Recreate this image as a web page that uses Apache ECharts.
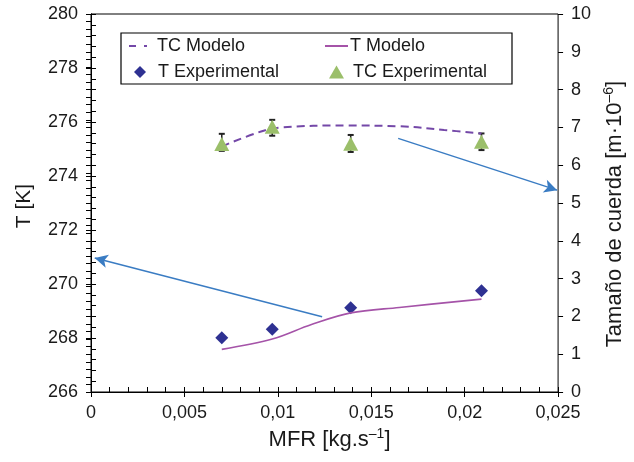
<!DOCTYPE html>
<html><head><meta charset="utf-8">
<script src="https://cdn.jsdelivr.net/npm/echarts@6/dist/echarts.min.js"></script>
<style>html,body{margin:0;padding:0;background:#fff}#c{width:634px;height:462px}</style>
</head><body><div id="c"></div>
<script>
// ---- data ----
const xTickLabels = ['0', '0,005', '0,01', '0,015', '0,02', '0,025'];
const leftTickLabels = ['266', '268', '270', '272', '274', '276', '278', '280'];
const rightTickLabels = ['0', '1', '2', '3', '4', '5', '6', '7', '8', '9', '10'];

// TC Modelo (right axis, m·10^-6)
const tcModelo = [[0.007, 6.50], [0.0091, 6.89], [0.0102, 7.00], [0.0136, 7.05], [0.0165, 7.03], [0.0189, 6.93], [0.0209, 6.84]];
// T Modelo (left axis, K)
const tModelo = [[0.007, 267.58], [0.0097, 267.96], [0.0118, 268.50], [0.0139, 268.93], [0.0165, 269.13], [0.0209, 269.44]];
// T Experimental (left axis)
const tExp = [[0.007, 268.01], [0.0097, 268.32], [0.0139, 269.12], [0.0209, 269.75]];
// TC Experimental (right axis)
const tcExp = [[0.007, 6.56], [0.0097, 7.02], [0.0139, 6.57], [0.0209, 6.62]];
// TC error bars [x, low, high]
const tcErr = [[0.007, 6.38, 6.83], [0.0097, 6.78, 7.20], [0.0139, 6.35, 6.80], [0.0209, 6.40, 6.84]];
// annotation arrows [start, end]
const arrowT = [[0.01237, 268.79], [0.0002, 270.96]];
const arrowTC = [[0.01644, 6.71], [0.02495, 5.34]];

const FONT = "'Liberation Sans', Arial, Helvetica, sans-serif";
const TXT = '#1a1a1a';

const chart = echarts.init(document.getElementById('c'), null, {renderer: 'canvas'});

const baseTick = {lineStyle: {color: '#000', width: 1}};
function xAx(extra) {
  return Object.assign({type: 'value', min: 0, max: 0.025, interval: 0.005, position: 'bottom',
    splitLine: {show: false}, minorSplitLine: {show: false}}, extra);
}
function yAx(min, max, interval, position, extra) {
  return Object.assign({type: 'value', min: min, max: max, interval: interval, position: position,
    splitLine: {show: false}, minorSplitLine: {show: false}}, extra);
}

const option = {
  animation: false,
  textStyle: {fontFamily: FONT},
  grid: {left: 91, right: 72, top: 14, bottom: 70, show: true, borderColor: '#000', borderWidth: 1, backgroundColor: 'transparent'},
  xAxis: [
    xAx({
      axisLine: {show: true, lineStyle: {color: '#000', width: 1}},
      axisTick: Object.assign({show: true, inside: true, length: 5}, baseTick),
      minorTick: {show: true, splitNumber: 5, length: 5, lineStyle: {color: '#000', width: 1}},
      axisLabel: {margin: 12, fontSize: 18, color: TXT, fontFamily: FONT,
        formatter: v => xTickLabels[Math.round(v / 0.005)]},
      name: 'MFR [kg.s{sup|–1}]', nameLocation: 'middle', nameGap: 33,
      nameTextStyle: {fontSize: 22, color: TXT, fontFamily: FONT, padding: [0, 0, 0, 10],
        rich: {sup: {fontSize: 14, color: TXT, fontFamily: FONT, padding: [0, 0, 12, 0]}}}
    }),
    xAx({
      axisLine: {show: false},
      axisTick: Object.assign({show: true, inside: false, length: 5}, baseTick),
      axisLabel: {show: false}
    })
  ],
  yAxis: [
    yAx(266, 280, 2, 'left', {
      axisLine: {show: true, lineStyle: {color: '#000', width: 1}},
      axisTick: Object.assign({show: true, inside: true, length: 5}, baseTick),
      minorTick: {show: true, splitNumber: 5, length: 5, lineStyle: {color: '#000', width: 1}},
      axisLabel: {margin: 13, fontSize: 18, color: TXT, fontFamily: FONT,
        formatter: v => leftTickLabels[Math.round((v - 266) / 2)]},
      name: 'T [K]', nameLocation: 'middle', nameGap: 56, nameRotate: 90,
      nameTextStyle: {fontSize: 21, color: TXT, fontFamily: FONT, padding: [0, 6, 0, 0]}
    }),
    yAx(0, 10, 1, 'right', {
      axisLine: {show: true, lineStyle: {color: '#000', width: 1}},
      axisTick: Object.assign({show: true, inside: true, length: 5}, baseTick),
      minorTick: {show: true, splitNumber: 5, length: 5, lineStyle: {color: '#000', width: 1}},
      axisLabel: {margin: 13, fontSize: 18, color: TXT, fontFamily: FONT,
        formatter: v => rightTickLabels[Math.round(v)]},
      name: 'Tamaño de cuerda [m·10{sup|–6}]', nameLocation: 'middle', nameGap: 27, nameRotate: 90,
      nameTextStyle: {fontSize: 22, color: TXT, fontFamily: FONT, padding: [0, 22, 0, 0],
        rich: {sup: {fontSize: 14, color: TXT, fontFamily: FONT, padding: [0, 0, 12, 0]}}}
    }),
    yAx(266, 280, 2, 'left', {
      axisLine: {show: false},
      axisTick: Object.assign({show: true, inside: false, length: 5}, baseTick),
      axisLabel: {show: false}
    }),
    yAx(0, 10, 1, 'right', {
      axisLine: {show: false},
      axisTick: Object.assign({show: true, inside: false, length: 5}, baseTick),
      axisLabel: {show: false}
    })
  ],
  legend: [
    {data: ['TC Modelo'], left: 129, top: 36, padding: 0, icon: 'path://M0,0h7v2h-7zM15,0h3v2h-3z', itemWidth: 18, itemHeight: 3,
      textStyle: {fontSize: 18, color: TXT, fontFamily: FONT, lineHeight: 20, padding: [0, 0, 0, 5]}},
    {data: ['T Modelo'], left: 325, top: 36, padding: 0, icon: 'rect', itemWidth: 23, itemHeight: 2,
      textStyle: {fontSize: 18, color: TXT, fontFamily: FONT, lineHeight: 20, padding: [0, 0, 0, -3]}},
    {data: ['T Experimental'], left: 134, top: 62, padding: 0, icon: 'diamond', itemWidth: 12, itemHeight: 12,
      textStyle: {fontSize: 18, color: TXT, fontFamily: FONT, lineHeight: 20, padding: [0, 0, 0, 7]}},
    {data: ['TC Experimental'], left: 329, top: 62, padding: 0, icon: 'triangle', itemWidth: 15, itemHeight: 13,
      textStyle: {fontSize: 18, color: TXT, fontFamily: FONT, lineHeight: 20, padding: [0, 0, 0, 4]}}
  ],
  graphic: [
    {type: 'rect', silent: true, shape: {x: 121, y: 33, width: 391, height: 51}, style: {fill: 'none', stroke: '#000', lineWidth: 1.2}, z: 100}
  ],
  series: [
    {name: 'TC Modelo', type: 'line', xAxisIndex: 0, yAxisIndex: 1, data: tcModelo, smooth: 0.4,
      symbol: 'none', showSymbol: false,
      lineStyle: {type: [8, 5], width: 2, color: '#7448a8'}, itemStyle: {color: '#7448a8'},
      markLine: {silent: true, symbol: ['none', 'arrow'], symbolSize: [10, 13], label: {show: false},
        lineStyle: {color: '#3a7cc3', width: 1.5, type: 'solid'},
        data: [[{coord: arrowTC[0]}, {coord: arrowTC[1]}]]}},
    {name: 'T Modelo', type: 'line', xAxisIndex: 0, yAxisIndex: 0, data: tModelo, smooth: 0.35,
      symbol: 'none', showSymbol: false,
      lineStyle: {width: 1.6, color: '#a553a8'}, itemStyle: {color: '#a553a8'},
      markLine: {silent: true, symbol: ['none', 'arrow'], symbolSize: [10, 13], label: {show: false},
        lineStyle: {color: '#3a7cc3', width: 1.5, type: 'solid'},
        data: [[{coord: arrowT[0]}, {coord: arrowT[1]}]]}},
    {name: 'T Experimental', type: 'scatter', xAxisIndex: 0, yAxisIndex: 0, data: tExp,
      symbol: 'diamond', symbolSize: 13, itemStyle: {color: '#2e3192', opacity: 1}},
    {name: 'TC err', type: 'custom', xAxisIndex: 0, yAxisIndex: 1, data: tcErr, z: 2,
      encode: {x: 0, y: [1, 2]},
      renderItem: function (params, api) {
        const x = api.value(0);
        const lo = api.coord([x, api.value(1)]);
        const hi = api.coord([x, api.value(2)]);
        const w = 3;
        return {type: 'group', children: [
          {type: 'line', shape: {x1: lo[0], y1: lo[1], x2: hi[0], y2: hi[1]}, style: {stroke: '#222', lineWidth: 1.5}},
          {type: 'line', shape: {x1: lo[0] - w, y1: lo[1], x2: lo[0] + w, y2: lo[1]}, style: {stroke: '#222', lineWidth: 2}},
          {type: 'line', shape: {x1: hi[0] - w, y1: hi[1], x2: hi[0] + w, y2: hi[1]}, style: {stroke: '#222', lineWidth: 2}}
        ]};
      }},
    {name: 'TC Experimental', type: 'scatter', xAxisIndex: 0, yAxisIndex: 1, data: tcExp, z: 3,
      symbol: 'triangle', symbolSize: [15, 14], itemStyle: {color: '#9bbf6a', opacity: 1}}
  ]
};
chart.setOption(option);
</script>
</body></html>
